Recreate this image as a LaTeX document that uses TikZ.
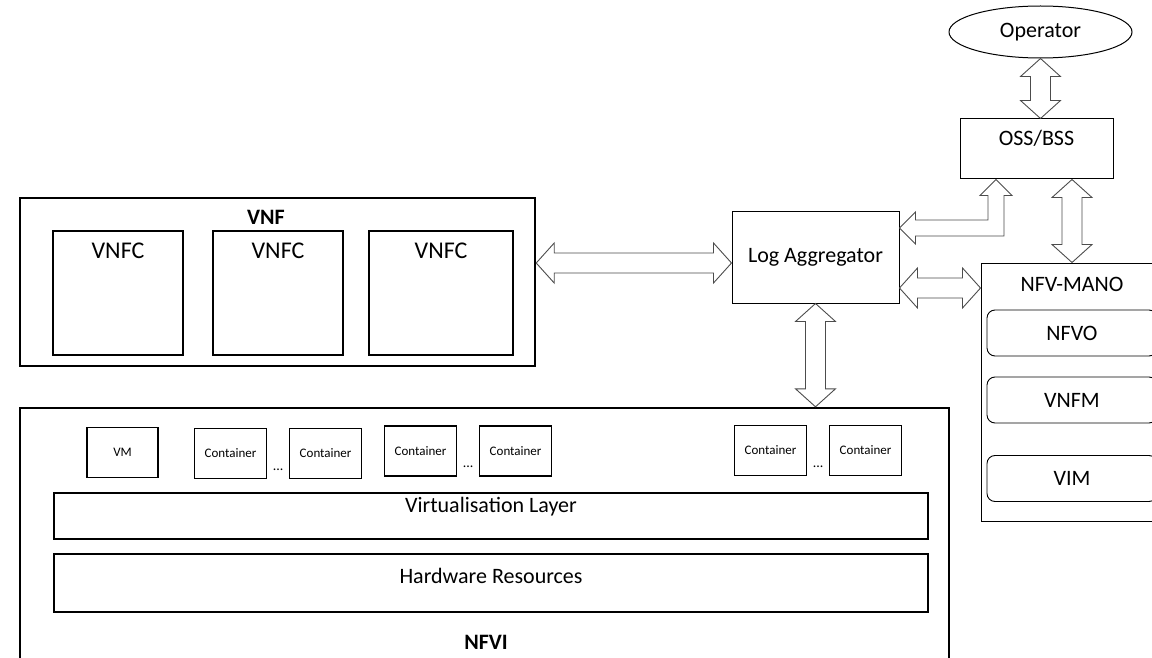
\documentclass[tikz,border=0pt]{standalone}
\usepackage{fontspec}
\setmainfont{Carlito}
\usetikzlibrary{positioning,calc,shapes.geometric}
\newcommand{\fgrande}{\fontsize{22}{26}\selectfont}
\newcommand{\fvnfc}{\fontsize{24}{28}\selectfont}
\newcommand{\fchico}{\fontsize{13}{15}\selectfont}
% medidas de las flechas gruesas: largo de punta, media punta, medio cuerpo
\def\cl{18pt}\def\ca{20pt}\def\cs{10pt}
\tikzset{
  marco/.style={draw,line width=2.4pt,inner sep=0pt},
  vnfc/.style={draw,line width=2pt,inner sep=0pt,minimum height=124pt},
  caja/.style={draw,line width=1pt,inner sep=0pt,font=\fgrande},
  cont/.style={draw,line width=1.1pt,inner sep=0pt,minimum width=72pt,
               minimum height=50pt,font=\fchico},
  capa/.style={draw,line width=2pt,inner sep=0pt,minimum width=874pt},
  sub/.style={draw,line width=0.9pt,rounded corners=8pt,minimum width=170pt,
              minimum height=46pt,font=\fgrande},
  titulo/.style={font=\fgrande\bfseries,inner sep=0pt},
  texto/.style={font=\fgrande,inner sep=0pt},
  puntos/.style={font=\fontsize{14}{16}\selectfont,inner sep=0pt,anchor=base},
  flecha/.style={draw=black!70,line width=0.9pt,fill=white,line join=miter},
}
% flecha doble horizontal: #1 punta izquierda, #2 punta derecha
\newcommand{\flechaH}[2]{%
  \draw[flecha] (#1) -- ++(\cl,\ca) -- ++(0,-\ca+\cs) -- ($(#2)+(-\cl,\cs)$)
    -- ++(0,\ca-\cs) -- (#2) -- ++(-\cl,-\ca) -- ++(0,\ca-\cs)
    -- ($(#1)+(\cl,-\cs)$) -- ++(0,-\ca+\cs) -- cycle;}
% flecha doble vertical: #1 punta de arriba, #2 punta de abajo
\newcommand{\flechaV}[2]{%
  \draw[flecha] (#1) -- ++(\ca,-\cl) -- ++(-\ca+\cs,0) -- ($(#2)+(\cs,\cl)$)
    -- ++(\ca-\cs,0) -- (#2) -- ++(-\ca,\cl) -- ++(\ca-\cs,0)
    -- ($(#1)+(-\cs,-\cl)$) -- ++(-\ca+\cs,0) -- cycle;}

\begin{document}
\begin{tikzpicture}[x=1pt,y=-1pt]
  \useasboundingbox (0,0) rectangle (1152,658);
  \clip (0,0) rectangle (1152,658);

  % VNF
  \node[marco,minimum width=515pt,minimum height=168pt] (vnf) at (277.5,282) {};
  \node[titulo] (vnftit) at (266,217) {VNF};
  \node[vnfc,minimum width=130pt] (vnfc1) at (118,293) {};
  \node[vnfc,minimum width=130pt] (vnfc2) at (278,293) {};
  \node[vnfc,minimum width=144pt] (vnfc3) at (441,293) {};
  \foreach \n in {1,2,3}
    \node[font=\fvnfc,inner sep=0pt] (tvnfc\n) at (vnfc\n.center |- 0,251) {VNFC};

  % gestion
  \node[caja,minimum width=167pt,minimum height=92pt] (log) at (815.5,257) {Log Aggregator};
  \node[draw,ellipse,line width=1pt,inner sep=0pt,minimum width=183pt,
        minimum height=52pt,font=\fgrande] (op) at (1040.5,32) {Operator};
  \node[caja,minimum width=153pt,minimum height=60pt] (oss) at (1036.5,149) {};
  \node[texto] (osst) at (1036.5,138) {OSS/BSS};

  % NFV-MANO
  \node[caja,minimum width=182pt,minimum height=258pt] (mano) at (1072,392) {};
  \node[texto] (manot) at (1072,284) {NFV-MANO};
  \node[sub] (nfvo) at (1072,333) {NFVO};
  \node[sub] (vnfm) at (1072,400) {VNFM};
  \node[sub] (vim) at (1072,478.5) {VIM};

  % NFVI
  \node[marco,minimum width=929pt,minimum height=272pt] (nfvi) at (484.5,544) {};
  \node[cont,minimum width=71pt] (vm) at (122.5,452.5) {VM};
  \node[cont] (c1) at (230.5,453.5) {Container};
  \node[cont,right=22pt of c1] (c2) {Container};
  \node[cont] (c3) at (420.5,451) {Container};
  \node[cont,right=22pt of c3] (c4) {Container};
  \node[cont] (c5) at (770.5,450.5) {Container};
  \node[cont,right=22pt of c5] (c6) {Container};
  \foreach \a/\b in {c1/c2,c3/c4,c5/c6}
    \node[puntos] (p\a) at ($(\a.south east)!.5!(\b.south west)+(0,9pt)$) {...};
  \node[capa,minimum height=46pt] (virt) at (491,516) {};
  \node[texto] (virtt) at (491,507) {Virtualisation Layer};
  \node[capa,minimum height=58pt] (hw) at (491,583) {};
  \node[texto] (hwt) at (491,576) {Hardware Resources};
  \node[titulo] (nfvit) at (486,642) {NFVI};

  % flechas
  \coordinate (fa) at (0,263);
  \coordinate (fb) at (0,288);
  \coordinate (codo) at (996,228);
  \flechaH{vnf.east |- fa}{log.west |- fa}
  \flechaH{log.east |- fb}{mano.west |- fb}
  \flechaV{log.south}{log.south |- nfvi.north}
  \flechaV{op.south}{op.south |- oss.north}
  \flechaV{oss.south -| mano.north}{mano.north}
  \draw[flecha] (log.east |- codo) -- ++(16pt,16pt) -- ++(0,-8pt)
    -- ($(codo)+(-8pt,8pt)$) -- ($(oss.south -| codo)+(-8pt,-16pt)$) -- ++(-8pt,0)
    -- (oss.south -| codo) -- ++(16pt,-16pt) -- ++(-8pt,0)
    -- ($(codo)+(8pt,-8pt)$) -- ($(log.east |- codo)+(16pt,-8pt)$) -- ++(0,-8pt) -- cycle;
\end{tikzpicture}
\end{document}
